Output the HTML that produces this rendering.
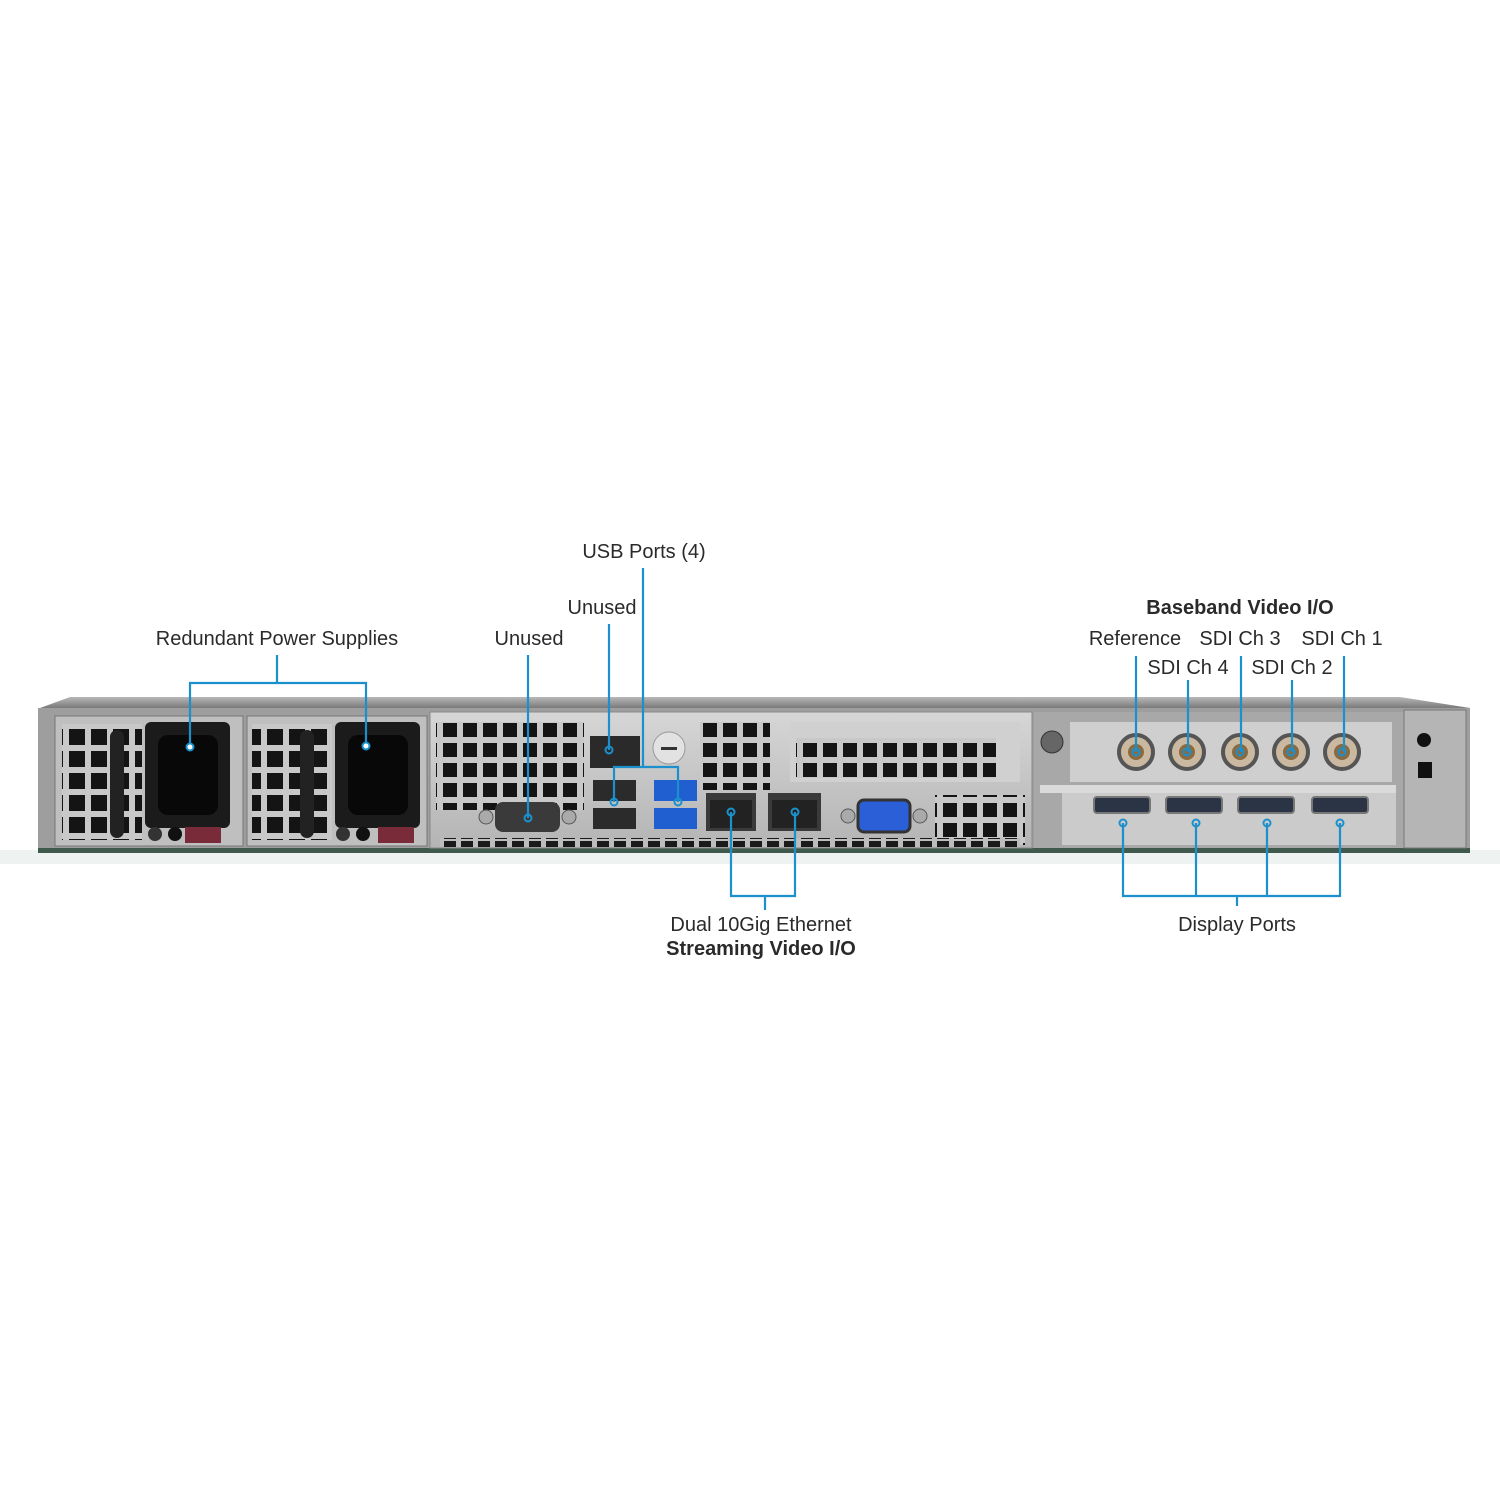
<!DOCTYPE html>
<html><head><meta charset="utf-8"><style>
html,body{margin:0;padding:0;background:#fff;}
svg{display:block;}
text{font-family:"Liberation Sans",sans-serif;font-size:20px;fill:#2a2a2a;}
.b{font-weight:bold;}
</style></head><body>
<svg width="1500" height="1500" viewBox="0 0 1500 1500" xmlns="http://www.w3.org/2000/svg">
<defs>
<linearGradient id="lid" x1="0" y1="0" x2="0" y2="1"><stop offset="0" stop-color="#b8b8b8"/><stop offset="1" stop-color="#7a7a7a"/></linearGradient>
<linearGradient id="pan" x1="0" y1="0" x2="0" y2="1"><stop offset="0" stop-color="#d6d6d6"/><stop offset="1" stop-color="#b4b4b4"/></linearGradient>
<pattern id="vent" width="22" height="22" patternUnits="userSpaceOnUse"><rect width="22" height="22" fill="#c8c8c8"/><rect x="3" y="3" width="16" height="16" fill="#141414"/></pattern>
<pattern id="vent2" width="20" height="20" patternUnits="userSpaceOnUse"><rect width="20" height="20" fill="#c8c8c8"/><rect x="3" y="3" width="14" height="14" fill="#141414"/></pattern>
<pattern id="slot" width="17" height="8" patternUnits="userSpaceOnUse"><rect width="17" height="8" fill="#bdbdbd"/><rect x="2" y="1" width="12" height="6" fill="#1a1a1a"/></pattern>
</defs>
<rect width="1500" height="1500" fill="#fff"/>
<!-- shadow -->
<rect x="0" y="850" width="1500" height="14" fill="#eef2f0"/>
<!-- lid -->
<polygon points="40,708 70,697 1400,697 1470,708" fill="url(#lid)"/>
<!-- chassis -->
<rect x="38" y="708" width="1432" height="144" fill="#9e9e9e"/>
<rect x="38" y="848" width="1432" height="5" fill="#3f5a4c"/>
<!-- PSU 1 -->
<rect x="55" y="716" width="188" height="130" fill="#bfbfbf" stroke="#777"/>
<rect x="62" y="724" width="80" height="116" fill="url(#vent)"/>
<rect x="145" y="722" width="85" height="106" rx="6" fill="#1b1b1b"/>
<rect x="158" y="735" width="60" height="80" rx="10" fill="#080808"/>
<rect x="110" y="730" width="14" height="108" rx="7" fill="#222"/>
<circle cx="155" cy="834" r="7" fill="#333"/><circle cx="175" cy="834" r="7" fill="#111"/>
<rect x="185" y="827" width="36" height="16" fill="#7a2b3a"/>
<!-- PSU 2 -->
<rect x="247" y="716" width="180" height="130" fill="#bfbfbf" stroke="#777"/>
<rect x="252" y="724" width="80" height="116" fill="url(#vent)"/>
<rect x="335" y="722" width="85" height="106" rx="6" fill="#1b1b1b"/>
<rect x="348" y="735" width="60" height="80" rx="10" fill="#080808"/>
<rect x="300" y="730" width="14" height="108" rx="7" fill="#222"/>
<circle cx="343" cy="834" r="7" fill="#333"/><circle cx="363" cy="834" r="7" fill="#111"/>
<rect x="378" y="827" width="36" height="16" fill="#7a2b3a"/>
<!-- Mid panel -->
<rect x="430" y="712" width="602" height="136" fill="url(#pan)" stroke="#888"/>
<rect x="436" y="722" width="148" height="88" fill="url(#vent2)"/>
<rect x="700" y="722" width="70" height="68" fill="url(#vent2)"/>
<rect x="790" y="722" width="230" height="60" fill="#d0d0d0"/>
<rect x="796" y="738" width="200" height="40" fill="url(#vent2)"/>
<rect x="935" y="795" width="90" height="50" fill="url(#vent2)"/>
<rect x="440" y="838" width="580" height="9" fill="url(#slot)"/>
<!-- serial -->
<rect x="495" y="802" width="65" height="30" rx="8" fill="#3a3a3a"/>
<circle cx="486" cy="817" r="7" fill="#aaa" stroke="#555"/><circle cx="569" cy="817" r="7" fill="#aaa" stroke="#555"/>
<!-- RJ45 -->
<rect x="590" y="736" width="50" height="32" fill="#2a2a2a"/>
<circle cx="669" cy="748" r="16" fill="#e2e2e2" stroke="#999"/><rect x="661" y="747" width="16" height="3" fill="#333"/>
<!-- USB -->
<rect x="593" y="780" width="43" height="21" fill="#2b2b2b"/><rect x="593" y="808" width="43" height="21" fill="#2b2b2b"/>
<rect x="654" y="780" width="43" height="21" fill="#1f5fd0"/><rect x="654" y="808" width="43" height="21" fill="#1f5fd0"/>
<!-- Ethernet -->
<rect x="706" y="793" width="50" height="38" fill="#3a3a3a"/><rect x="710" y="800" width="42" height="28" fill="#222"/>
<rect x="768" y="793" width="53" height="38" fill="#3a3a3a"/><rect x="772" y="800" width="45" height="28" fill="#222"/>
<!-- VGA -->
<rect x="858" y="800" width="52" height="32" rx="6" fill="#2a5fd8" stroke="#333" stroke-width="3"/>
<circle cx="848" cy="816" r="7" fill="#aaa" stroke="#555"/><circle cx="920" cy="816" r="7" fill="#aaa" stroke="#555"/>
<!-- Right card area -->
<rect x="1034" y="712" width="370" height="136" fill="#a8a8a8"/>
<rect x="1070" y="722" width="322" height="60" fill="#cfcfcf"/>
<circle cx="1052" cy="742" r="11" fill="#666" stroke="#333"/>
<g fill="#cbb8a0" stroke="#555" stroke-width="4">
<circle cx="1136" cy="752" r="17"/><circle cx="1187" cy="752" r="17"/><circle cx="1240" cy="752" r="17"/><circle cx="1291" cy="752" r="17"/><circle cx="1342" cy="752" r="17"/></g>
<g fill="#8a6a40"><circle cx="1136" cy="752" r="8"/><circle cx="1187" cy="752" r="8"/><circle cx="1240" cy="752" r="8"/><circle cx="1291" cy="752" r="8"/><circle cx="1342" cy="752" r="8"/></g>
<rect x="1040" y="785" width="356" height="8" fill="#dadada"/>
<rect x="1062" y="793" width="334" height="52" fill="#cbcbcb"/>
<g fill="#2b3445" stroke="#777" stroke-width="2">
<rect x="1094" y="797" width="56" height="16" rx="3"/><rect x="1166" y="797" width="56" height="16" rx="3"/><rect x="1238" y="797" width="56" height="16" rx="3"/><rect x="1312" y="797" width="56" height="16" rx="3"/></g>
<!-- right bracket -->
<rect x="1404" y="710" width="62" height="138" fill="#b5b5b5" stroke="#777"/>
<circle cx="1424" cy="740" r="7" fill="#111"/><rect x="1418" y="762" width="14" height="16" fill="#111"/>
<!-- Callout lines -->
<g stroke="#1b90cc" stroke-width="2.2" fill="none">
<path d="M277 655 V683 M190 747 V683 H366 V746"/>
<path d="M528 655 V818"/>
<path d="M609 624 V750"/>
<path d="M643 568 V767 M614 802 V767 H678 V802"/>
<path d="M731 812 V896 H795 V812 M765 896 V910"/>
<path d="M1123 823 V896 H1340 V823 M1196 823 V896 M1267 823 V896 M1237 896 V906"/>
<path d="M1136 656 V752 M1241 656 V752 M1344 656 V752 M1188 680 V752 M1292 680 V752"/>
</g>
<g fill="none" stroke="#1b90cc" stroke-width="2">
<circle cx="190" cy="747" r="3.5" fill="#fff"/><circle cx="366" cy="746" r="3.5" fill="#fff"/>
<circle cx="528" cy="818" r="3.5"/><circle cx="609" cy="750" r="3.5"/>
<circle cx="614" cy="802" r="3.5"/><circle cx="678" cy="802" r="3.5"/>
<circle cx="731" cy="812" r="3.5"/><circle cx="795" cy="812" r="3.5"/>
<circle cx="1123" cy="823" r="3.5"/><circle cx="1196" cy="823" r="3.5"/><circle cx="1267" cy="823" r="3.5"/><circle cx="1340" cy="823" r="3.5"/>
<circle cx="1136" cy="752" r="3.5"/><circle cx="1187" cy="752" r="3.5"/><circle cx="1240" cy="752" r="3.5"/><circle cx="1291" cy="752" r="3.5"/><circle cx="1342" cy="752" r="3.5"/>
</g>
<!-- Labels -->
<g text-anchor="middle">
<text x="644" y="558">USB Ports (4)</text>
<text x="602" y="614">Unused</text>
<text x="529" y="645">Unused</text>
<text x="277" y="645">Redundant Power Supplies</text>
<text class="b" x="1240" y="614">Baseband Video I/O</text>
<text x="1135" y="645">Reference</text>
<text x="1240" y="645">SDI Ch 3</text>
<text x="1342" y="645">SDI Ch 1</text>
<text x="1188" y="674">SDI Ch 4</text>
<text x="1292" y="674">SDI Ch 2</text>
<text x="761" y="931">Dual 10Gig Ethernet</text>
<text class="b" x="761" y="955">Streaming Video I/O</text>
<text x="1237" y="931">Display Ports</text>
</g>
</svg>
</body></html>
